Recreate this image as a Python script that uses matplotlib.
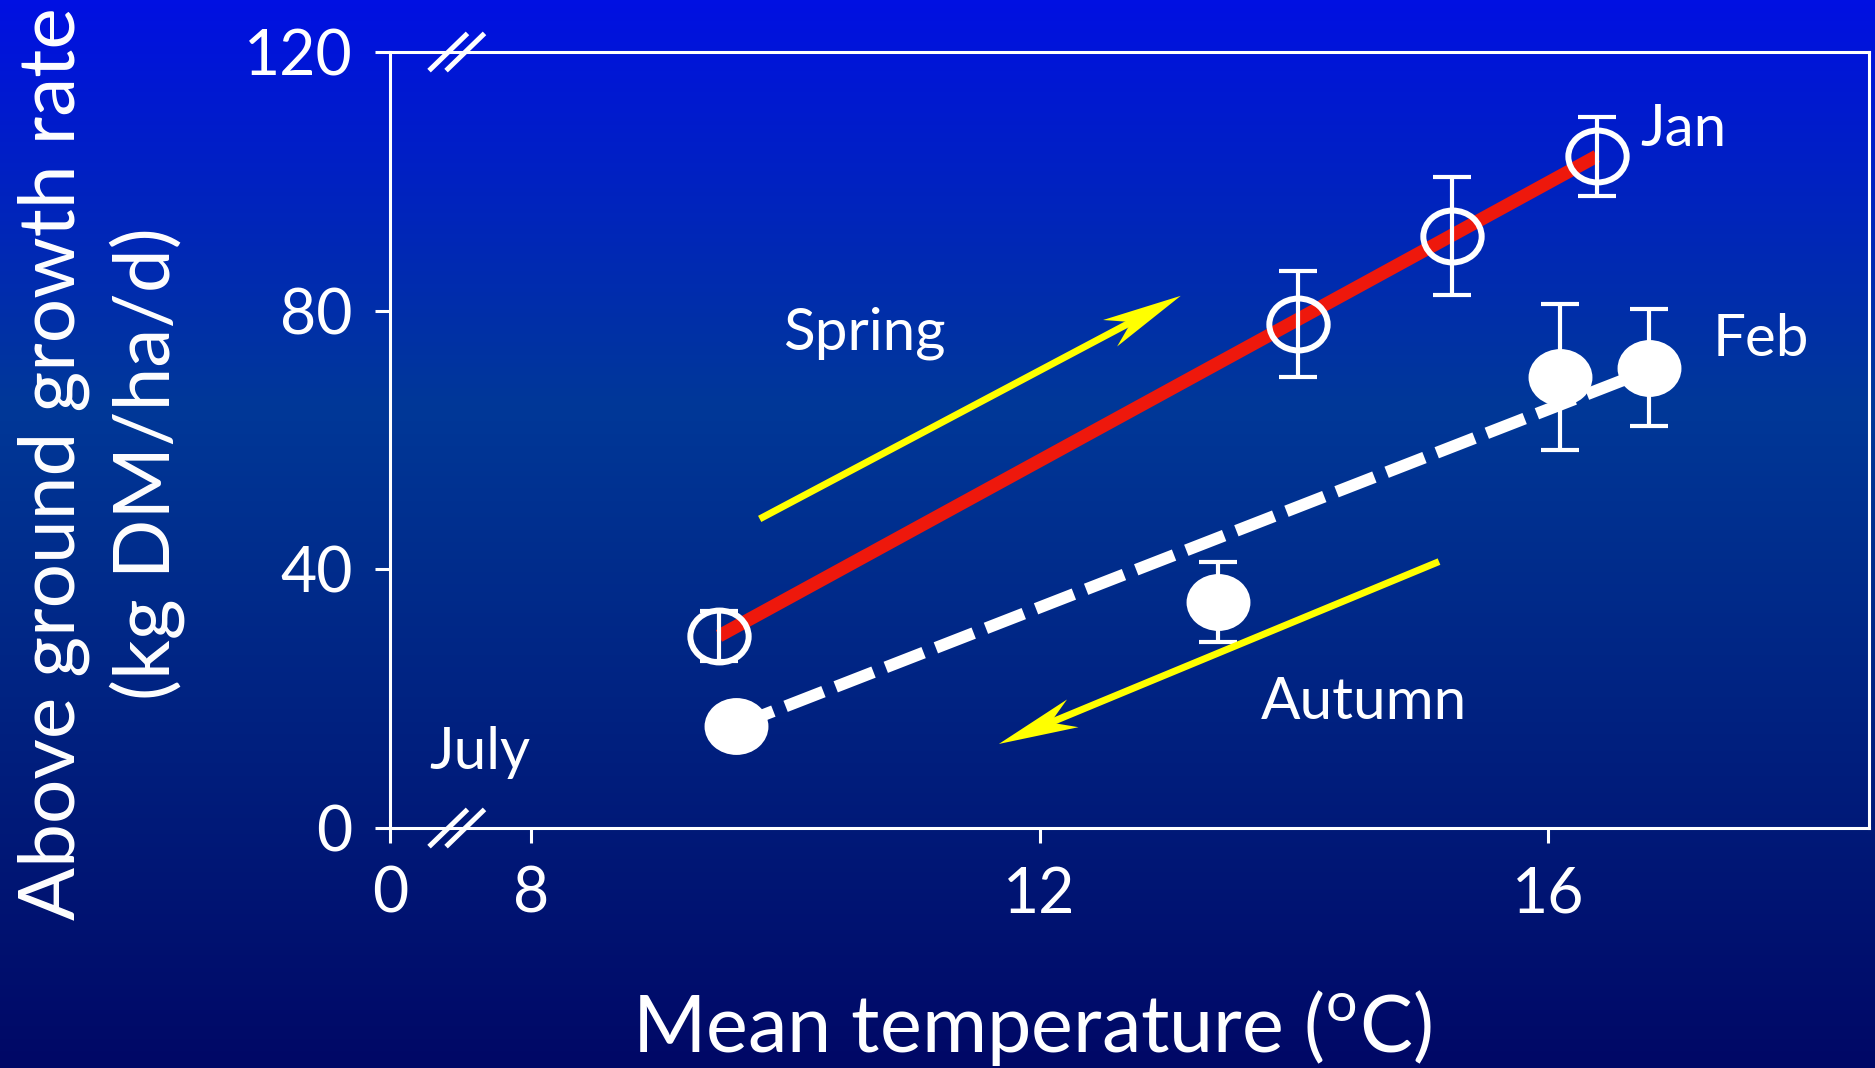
import numpy as np
import matplotlib
matplotlib.use('Agg')
import matplotlib.pyplot as plt
from matplotlib.colors import LinearSegmentedColormap
from matplotlib.path import Path
from matplotlib.patches import Polygon
from matplotlib.transforms import Affine2D, IdentityTransform

plt.rcParams['font.family'] = ['Lato', 'DejaVu Sans']
plt.rcParams['mathtext.fontset'] = 'custom'
plt.rcParams['mathtext.rm'] = 'Lato'

# spring (open symbols) - mean temperature vs growth rate
spring_temp = [9.48, 14.03, 15.24, 16.38]
spring_rate = [29.7, 77.9, 91.6, 103.9]
spring_err = [3.8, 8.2, 9.1, 6.1]

# autumn (filled symbols)
autumn_temp = [9.61, 13.40, 16.09, 16.79]
autumn_rate = [15.8, 34.9, 69.7, 71.2]
autumn_err = [0.0, 6.2, 11.3, 9.1]

# fitted lines (end points)
spring_fit_x = [9.48, 16.38]
spring_fit_y = [29.7, 103.9]
autumn_fit_x = [9.61, 16.75]
autumn_fit_y = [15.8, 70.5]

# direction arrows (tail -> head)
spring_arrow = [(9.80, 47.8), (13.11, 82.3)]
autumn_arrow = [(15.14, 41.2), (11.68, 13.0)]

# x axis is broken: left edge stands for 0
x_left, x_right = 6.894, 18.52
xtick_pos = [x_left, 8, 12, 16]
xtick_labels = ['0', '8', '12', '16']
ytick_pos = [0, 40, 80, 120]

labels = {
    'Spring': (9.98, 74.0),
    'Autumn': (13.74, 16.8),
    'Jan': (16.72, 105.5),
    'Feb': (17.29, 73.0),
    'July': (7.20, 9.2),
}

fig = plt.figure(figsize=(18.75, 10.68), dpi=100)

# gradient background
bg = fig.add_axes([0, 0, 1, 1])
cmap = LinearSegmentedColormap.from_list(
    'bg', [(0.0, '#0010E2'), (0.38, '#003898'), (1.0, '#000866')])
grad = np.linspace(0, 1, 256).reshape(-1, 1)
bg.imshow(grad, aspect='auto', cmap=cmap, extent=[0, 1, 0, 1], origin='upper')
bg.set_axis_off()

ax = fig.add_axes([0.208, 0.2247, 0.7888, 0.7266])
ax.set_facecolor('none')
ax.set_xlim(x_left, x_right)
ax.set_ylim(0, 120)

# ellipse marker slightly flatter than a circle
ell = Path(Affine2D().scale(1.0, 0.89).transform(Path.unit_circle().vertices),
           Path.unit_circle().codes)

# autumn: dashed fit line, error bars, filled markers
ax.plot(autumn_fit_x, autumn_fit_y, color='white', lw=8.6, dashes=(3.4, 1.1),
        solid_capstyle='butt', dash_capstyle='butt', zorder=2)
ax.errorbar(autumn_temp, autumn_rate, yerr=autumn_err, fmt='none', ecolor='white',
            elinewidth=3.0, capsize=14, capthick=3.0, zorder=3)
ax.plot(autumn_temp, autumn_rate, ls='none', marker=ell, ms=46, mfc='white',
        mec='white', mew=0, zorder=4)

# spring: red fit line, error bars, open markers
ax.plot(spring_fit_x, spring_fit_y, color='#EE180C', lw=9.5, solid_capstyle='butt', zorder=2)
ax.errorbar(spring_temp, spring_rate, yerr=spring_err, fmt='none', ecolor='white',
            elinewidth=3.0, capsize=14, capthick=3.0, zorder=3)
ax.plot(spring_temp, spring_rate, ls='none', marker=ell, ms=42, mfc='none',
        mec='white', mew=4.3, zorder=4)


# season arrows with a slim notched (stealth) head, drawn in pixels
def stealth_arrow(tail, head, head_len=80, half_w=15, notch=24):
    p0 = ax.transData.transform(tail)
    p1 = ax.transData.transform(head)
    u = (p1 - p0) / np.hypot(*(p1 - p0))
    n = np.array([-u[1], u[0]])
    back = p1 - (head_len - notch) * u
    ax.plot(*zip(tail, ax.transData.inverted().transform(back + 2 * u)),
            color='#FFFF00', lw=5, solid_capstyle='butt', zorder=3)
    pts = [p1, p1 - head_len * u + half_w * n, back, p1 - head_len * u - half_w * n]
    ax.add_patch(Polygon(pts, closed=True, transform=IdentityTransform(),
                         facecolor='#FFFF00', edgecolor='none', zorder=3))


for tail, head in [spring_arrow, autumn_arrow]:
    stealth_arrow(tail, head)

for txt, (x, y) in labels.items():
    ax.text(x, y, txt, color='white', fontsize=42, ha='left', va='baseline')

ax.set_xticks(xtick_pos)
ax.set_xticklabels(xtick_labels)
ax.set_yticks(ytick_pos)

for sp in ax.spines.values():
    sp.set_color('white')
    sp.set_linewidth(2.2)
ax.tick_params(colors='white', width=2.2, length=11, labelsize=45, pad=16)

# axis break marks on top and bottom spines
for y0 in (0.0, 1.0):
    for x0 in (0.0264, 0.0379):
        ax.plot([x0, x0 + 0.026], [y0 - 0.024, y0 + 0.024], color='white', lw=3.6,
                solid_capstyle='butt', transform=ax.transAxes, clip_on=False, zorder=5)

ax.set_xlabel('Mean temperature ($^{\\mathrm{o}}$C)', color='white', fontsize=57, va='baseline')
ax.xaxis.set_label_coords(0.434, -0.289)
ax.set_ylabel('Above ground growth rate\n(kg DM/ha/d)', color='white', fontsize=56.5,
              ha='center', va='center', linespacing=1.32)
ax.yaxis.set_label_coords(-0.195, 0.47)

fig.savefig('out.png', dpi=100)
